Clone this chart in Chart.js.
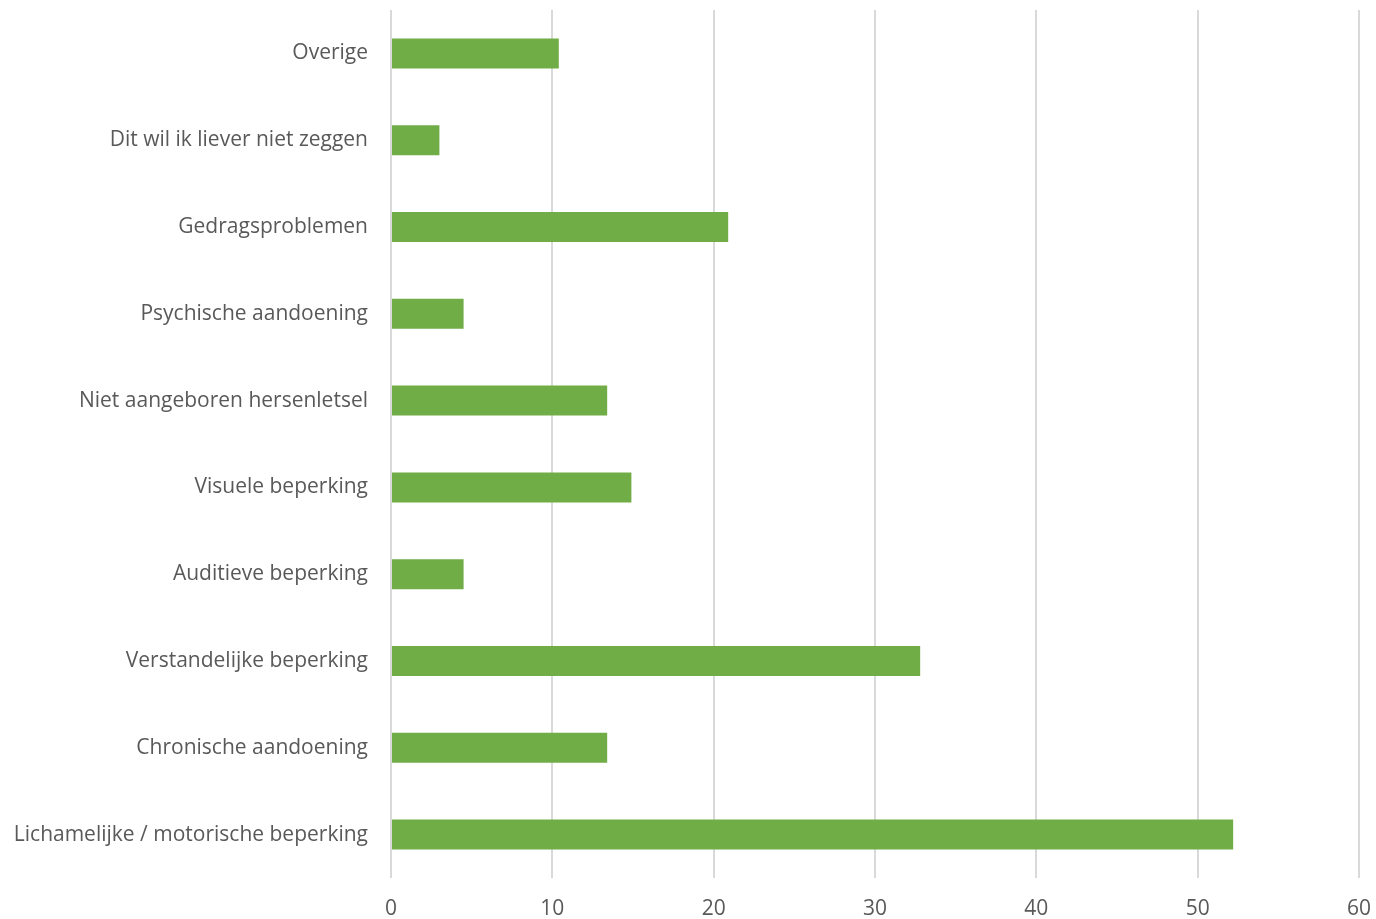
<!DOCTYPE html>
<html>
<head>
<meta charset="utf-8">
<script src="https://cdn.jsdelivr.net/npm/chart.js@4"></script>
<style>
html,body{margin:0;padding:0;background:#fff;}
#wrap{width:1376px;height:919px;position:relative;}
</style>
</head>
<body>
<div id="wrap"><canvas id="c" width="1376" height="919"></canvas></div>
<script>
const categories = [
  "Overige",
  "Dit wil ik liever niet zeggen",
  "Gedragsproblemen",
  "Psychische aandoening",
  "Niet aangeboren hersenletsel",
  "Visuele beperking",
  "Auditieve beperking",
  "Verstandelijke beperking",
  "Chronische aandoening",
  "Lichamelijke / motorische beperking"
];
const values = [10.4, 3.0, 20.9, 4.5, 13.4, 14.9, 4.5, 32.8, 13.4, 52.2];
const xTicks = [0, 10, 20, 30, 40, 50, 60];

const textColor = "#595959";
const fontFamily = "'Open Sans', 'Noto Sans', sans-serif";

function zeroPad(axis) {
  axis.paddingTop = 0; axis.paddingBottom = 0;
  axis.paddingLeft = 0; axis.paddingRight = 0;
}

new Chart(document.getElementById("c"), {
  type: "bar",
  data: {
    labels: categories,
    datasets: [{
      data: values,
      backgroundColor: "#70AD47",
      borderWidth: 0,
      categoryPercentage: 1,
      barPercentage: 0.346
    }]
  },
  options: {
    indexAxis: "y",
    responsive: false,
    animation: false,
    layout: { padding: { top: 10, right: 17, left: 0, bottom: 0 } },
    plugins: { legend: { display: false }, tooltip: { enabled: false } },
    scales: {
      x: {
        min: xTicks[0],
        max: xTicks[xTicks.length - 1],
        afterBuildTicks: (axis) => { axis.ticks = xTicks.map(v => ({ value: v })); },
        afterFit: (axis) => { axis.height = 41; zeroPad(axis); },
        grid: { color: "#D9D9D9", lineWidth: 2, drawTicks: false },
        border: { display: false },
        ticks: { color: textColor, font: { family: fontFamily, size: 21 }, padding: 18 }
      },
      y: {
        afterFit: (axis) => { axis.width = 391; zeroPad(axis); },
        grid: { display: false, drawTicks: false },
        border: { display: false },
        ticks: { color: textColor, font: { family: fontFamily, size: 21 }, padding: 23 }
      }
    }
  }
});
</script>
</body>
</html>
